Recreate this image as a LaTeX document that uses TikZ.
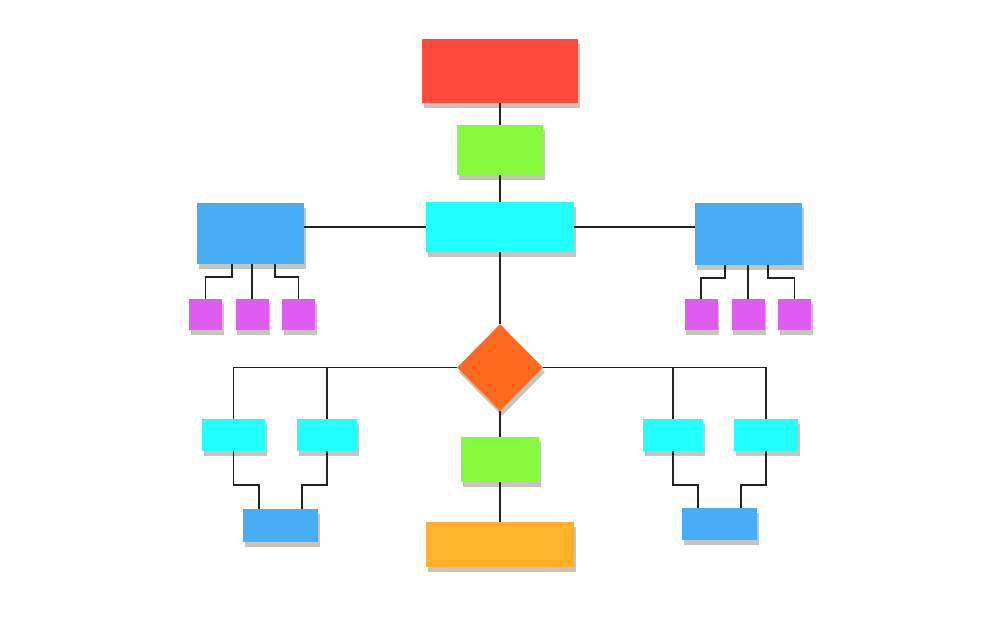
\documentclass[tikz,border=0pt]{standalone}
\usepackage{tikz}
\usetikzlibrary{shapes.geometric,shadows,calc}
\definecolor{fcred}{RGB}{255,74,61}
\definecolor{fcgreen}{RGB}{134,250,60}
\definecolor{fccyan}{RGB}{34,255,255}
\definecolor{fcblue}{RGB}{71,174,245}
\definecolor{fcmag}{RGB}{224,92,240}
\definecolor{fcdia}{RGB}{255,106,31}
\definecolor{fcorange}{RGB}{255,178,42}
\definecolor{fcline}{RGB}{35,35,35}

\begin{document}
\begin{tikzpicture}[x=0.02cm, y=-0.02cm,
  shade box/.style={drop shadow={shadow xshift=1.1pt, shadow yshift=-2.8pt,
      fill=black!70!brown, opacity=0.28}},
  box/.style n args={3}{fill=#1, minimum width=#2, minimum height=#3,
    inner sep=0pt, draw=none, shade box},
  link/.style={draw=fcline, line width=1pt}]
\useasboundingbox (0,0) rectangle (1000,617);
% spine
\node[box={fcred}{3.12cm}{1.28cm}] (head) at (500,71) {};
\node[box={fcgreen}{1.72cm}{1.0cm}] (step1) at (500,150) {};
\node[box={fccyan}{2.96cm}{1.0cm}] (hub) at (500,227) {};
\node[box={fcblue}{2.14cm}{1.22cm}] (lbr) at (250.5,233.5) {};
\node[box={fcblue}{2.14cm}{1.24cm}] (rbr) at (748.5,234) {};
\foreach \n/\x in {lm1/205.5, lm2/252, lm3/298.5, rm1/701, rm2/748, rm3/794.5}
  \node[box={fcmag}{0.66cm}{0.62cm}] (\n) at (\x,314.5) {};
\node[diamond, aspect=1, inner sep=0pt, minimum width=1.72cm,
  minimum height=1.74cm, fill=fcdia, shade box] (dec) at (500,367.5) {};
\node[box={fcgreen}{1.56cm}{0.9cm}] (step2) at (500,459.5) {};
\node[box={fcorange}{2.96cm}{0.9cm}] (tail) at (500,544.5) {};
% side branches below the decision
\node[box={fccyan}{1.26cm}{0.64cm}] (lc1) at (233.5,435) {};
\node[box={fccyan}{1.20cm}{0.64cm}] (lc2) at (327,435) {};
\node[box={fccyan}{1.20cm}{0.64cm}] (rc1) at (673,435) {};
\node[box={fccyan}{1.28cm}{0.64cm}] (rc2) at (766,435) {};
\node[box={fcblue}{1.50cm}{0.66cm}] (lj) at (280.5,525.5) {};
\node[box={fcblue}{1.50cm}{0.64cm}] (rj) at (719.5,524) {};

\draw[link] (head.south) -- (step1.north);
\draw[link] (step1.south) -- (hub.north);
\draw[link] (hub.west) -- (hub.west -| lbr.east);
\draw[link] (hub.east) -- (hub.east -| rbr.west);
\draw[link] (hub.south) -- (dec.north);
\draw[link] (dec.south) -- (step2.north);
\draw[link] (step2.south) -- (tail.north);
% small boxes under the branches
\draw[link] ($(lbr.south)+(-18.5,0)$) -- ++(0,13) -| (lm1.north);
\draw[link] (lbr.south -| lm2.north) -- (lm2.north);
\draw[link] ($(lbr.south)+(24.5,0)$) -- ++(0,13) -| (lm3.north);
\draw[link] ($(rbr.south)+(-23.5,0)$) -- ++(0,13) -| (rm1.north);
\draw[link] (rbr.south -| rm2.north) -- (rm2.north);
\draw[link] ($(rbr.south)+(19.5,0)$) -- ++(0,13) -| (rm3.north);
% decision outputs
\draw[link] (dec.west) -| (lc1.north);
\draw[link] (dec.west -| lc2.north) -- (lc2.north);
\draw[link] (dec.east) -| (rc2.north);
\draw[link] (dec.east -| rc1.north) -- (rc1.north);
\draw[link] (lc1.south) -- ++(0,34) -| ($(lj.north)+(-21.5,0)$);
\draw[link] (lc2.south) -- ++(0,34) -| ($(lj.north)+(21.5,0)$);
\draw[link] (rc1.south) -- ++(0,34) -| ($(rj.north)+(-21.5,0)$);
\draw[link] (rc2.south) -- ++(0,34) -| ($(rj.north)+(21.5,0)$);
\end{tikzpicture}
\end{document}
